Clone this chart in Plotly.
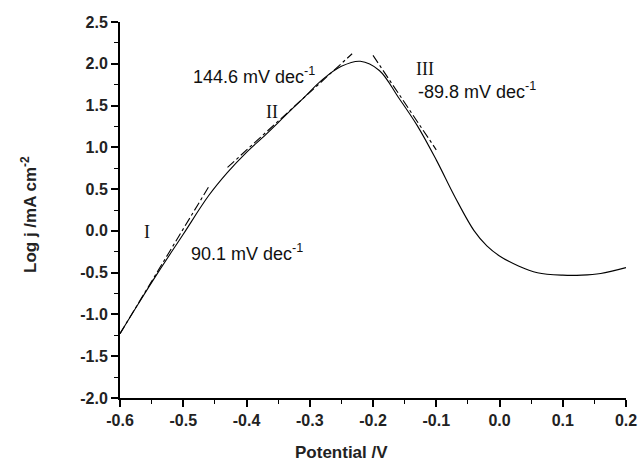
import plotly.graph_objects as go

# Main polarization curve (Potential / V vs log j)
potential = [-0.60, -0.57, -0.54, -0.50, -0.46, -0.43, -0.40, -0.37, -0.34, -0.31,
             -0.28, -0.25, -0.22, -0.19, -0.16, -0.13, -0.10, -0.07, -0.04, -0.02,
             0.00, 0.03, 0.06, 0.10, 0.13, 0.16, 0.20]
log_j = [-1.23, -0.86, -0.50, -0.04, 0.42, 0.70, 0.94, 1.15, 1.37, 1.59,
         1.81, 1.97, 2.03, 1.92, 1.60, 1.26, 0.85, 0.40, 0.00, -0.18,
         -0.30, -0.42, -0.50, -0.53, -0.53, -0.51, -0.44]

# Tafel fit lines
fit1_x = [-0.600, -0.458]
fit1_y = [-1.23, 0.55]
fit2_x = [-0.430, -0.233]
fit2_y = [0.76, 2.12]
fit3_x = [-0.200, -0.100]
fit3_y = [2.10, 0.97]

x_ticks = [-0.6, -0.5, -0.4, -0.3, -0.2, -0.1, 0.0, 0.1, 0.2]
y_ticks = [-2.0, -1.5, -1.0, -0.5, 0.0, 0.5, 1.0, 1.5, 2.0, 2.5]

SANS = "Liberation Sans, Arial, sans-serif"
SERIF = "Liberation Serif, Times New Roman, serif"

fig = go.Figure()
fig.add_trace(go.Scatter(x=potential, y=log_j, mode="lines", line_shape="spline",
                         line=dict(color="black", width=1.1), showlegend=False))
for fx, fy in [(fit1_x, fit1_y), (fit2_x, fit2_y), (fit3_x, fit3_y)]:
    fig.add_trace(go.Scatter(x=fx, y=fy, mode="lines",
                             line=dict(color="black", width=1.1, dash="dashdot"),
                             showlegend=False))

axis_common = dict(showline=True, linecolor="black", linewidth=2, showgrid=False,
                   zeroline=False, ticks="outside", ticklen=7, tickwidth=1.5,
                   tickcolor="black", mirror=False, automargin=False,
                   tickfont=dict(family=SANS, size=16, color="#222"),
                   minor=dict(ticks="outside", ticklen=4, tickwidth=1.2, tickcolor="black"))

fig.update_xaxes(range=[-0.6, 0.2], tickvals=x_ticks,
                 ticktext=[f"<b>{v:.1f}</b>" for v in x_ticks],
                 minor_dtick=0.05, **axis_common)
fig.update_yaxes(range=[-2.0, 2.5], tickvals=y_ticks,
                 ticktext=[f"<b>{v:.1f}</b>" for v in y_ticks],
                 minor_dtick=0.25, **axis_common)

ann_font = dict(family=SANS, size=18, color="#111")
serif_font = dict(family=SERIF, size=18, color="#111")
annotations = [
    dict(x=-0.388, y=1.86, text="144.6 mV dec<sup>-1</sup>", font=ann_font),
    dict(x=-0.36, y=1.42, text="II", font=serif_font),
    dict(x=-0.118, y=1.94, text="III", font=serif_font),
    dict(x=-0.035, y=1.68, text="-89.8 mV dec<sup>-1</sup>", font=ann_font),
    dict(x=-0.557, y=-0.01, text="I", font=serif_font),
    dict(x=-0.40, y=-0.26, text="90.1 mV dec<sup>-1</sup>", font=ann_font),
]
for a in annotations:
    fig.add_annotation(xref="x", yref="y", showarrow=False, **a)

# Axis titles
fig.add_annotation(xref="paper", yref="paper", x=(341 - 120) / 506, y=-(452 - 398) / 376,
                   xanchor="center", yanchor="middle",
                   text="<b>Potential /V</b>", showarrow=False,
                   font=dict(family=SANS, size=17, color="#222"))
fig.add_annotation(xref="paper", yref="paper", x=-(120 - 29) / 506, y=(398 - 215) / 376,
                   xanchor="center", yanchor="middle",
                   text="<b>Log j /mA cm<sup>-2</sup></b>", showarrow=False, textangle=-90,
                   font=dict(family=SANS, size=17, color="#222"))

fig.update_layout(width=640, height=467, margin=dict(l=120, r=14, t=22, b=69),
                  plot_bgcolor="white", paper_bgcolor="white")

fig.write_html("out.html")
